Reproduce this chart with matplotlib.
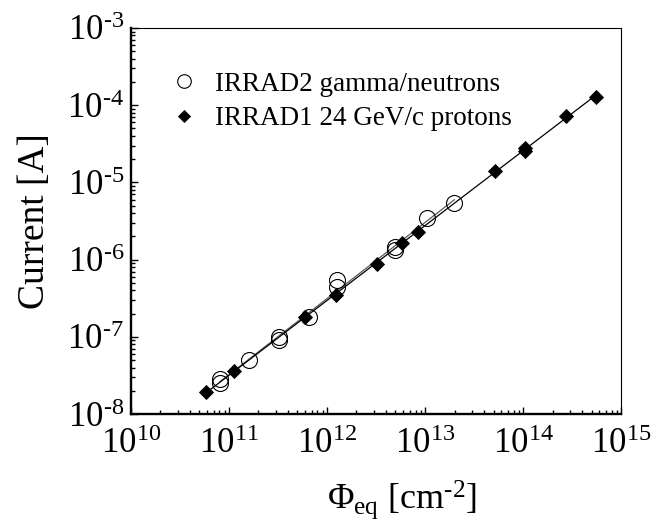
import numpy as np
import matplotlib
matplotlib.use("Agg")
import matplotlib.pyplot as plt
from matplotlib.ticker import LogLocator, FuncFormatter, NullFormatter

plt.rcParams['font.family'] = ['Liberation Serif', 'DejaVu Serif']
plt.rcParams['mathtext.fontset'] = 'custom'
plt.rcParams['mathtext.rm'] = 'Liberation Serif'
plt.rcParams['mathtext.it'] = 'Liberation Serif:italic'

# IRRAD2 gamma/neutrons (open circles)
fluence_n = [8.1e10, 8.1e10, 1.61e11, 3.24e11, 3.24e11, 6.5e11, 1.26e12, 1.26e12,
             4.9e12, 4.9e12, 1.04e13, 1.99e13]
current_n = [2.8e-8, 2.56e-8, 5.0e-8, 9.9e-8, 9.1e-8, 1.79e-7, 5.4e-7, 4.4e-7,
             1.46e-6, 1.35e-6, 3.43e-6, 5.36e-6]

# IRRAD1 24 GeV/c protons (filled diamonds)
fluence_p = [5.8e10, 1.13e11, 5.97e11, 1.24e12, 3.21e12, 5.78e12, 8.55e12,
             5.18e13, 1.05e14, 1.05e14, 2.75e14, 5.5e14]
current_p = [1.91e-8, 3.66e-8, 1.80e-7, 3.47e-7, 8.77e-7, 1.65e-6, 2.30e-6,
             1.41e-5, 2.8e-5, 2.55e-5, 7.24e-5, 1.29e-4]

labels = ["IRRAD2 gamma/neutrons", "IRRAD1 24 GeV/c protons"]


def loglog_fit(x, y):
    lx, ly = np.log10(x), np.log10(y)
    k, b = np.polyfit(lx, ly, 1)
    xs = np.array([lx.min(), lx.max()])
    return 10**xs, 10**(k*xs + b)


def pow10(v, pos):
    e = int(round(np.log10(v)))
    return r'$10^{\text{%d}}$' % e


fig = plt.figure(figsize=(6.71, 5.20), dpi=100)
ax = fig.add_axes([0.1952, 0.2038, 0.7303, 0.7424])

fx, fy = loglog_fit(fluence_n, current_n)
ax.plot(fx, fy, color='0.35', lw=0.9, zorder=2)
fx, fy = loglog_fit(fluence_p, current_p)
ax.plot(fx, fy, color='black', lw=0.9, zorder=2)

ax.plot(fluence_n, current_n, linestyle='none', marker='o', ms=11.5,
        mfc='none', mec='black', mew=0.8, label=labels[0], zorder=3)
ax.plot(fluence_p, current_p, linestyle='none', marker='D', ms=7.2,
        mfc='black', mec='black', mew=0.6, label=labels[1], zorder=4)

ax.set_xscale('log')
ax.set_yscale('log')
ax.set_xlim(1e10, 1e15)
ax.set_ylim(1e-8, 1e-3)

for axis in (ax.xaxis, ax.yaxis):
    axis.set_major_locator(LogLocator(base=10, numticks=20))
    axis.set_minor_locator(LogLocator(base=10, subs=np.arange(2, 10), numticks=20))
    axis.set_major_formatter(FuncFormatter(pow10))
    axis.set_minor_formatter(NullFormatter())

ax.tick_params(which='both', direction='in', top=False, right=False,
               labelsize=25, width=1.0)
ax.tick_params(which='major', length=5)
ax.tick_params(which='minor', length=3)
ax.tick_params(axis='x', pad=10)
ax.tick_params(axis='y', pad=5)

ax.spines['left'].set_linewidth(1.7)
ax.spines['bottom'].set_linewidth(1.7)
ax.spines['top'].set_linewidth(0.8)
ax.spines['right'].set_linewidth(0.8)

ax.set_ylabel("Current [A]", fontsize=27, labelpad=11)
ax.set_xlabel(r"$\Phi_{\mathrm{eq}}$ [cm$^{\text{-2}}$]", fontsize=26)
ax.xaxis.set_label_coords(0.553, -0.168)

ax.legend(loc='upper left', bbox_to_anchor=(0.025, 0.95), frameon=False,
          fontsize=19.5, handletextpad=0.55, labelspacing=0.35, markerscale=0.85,
          handlelength=1.2)

fig.savefig("out.png", dpi=100)
